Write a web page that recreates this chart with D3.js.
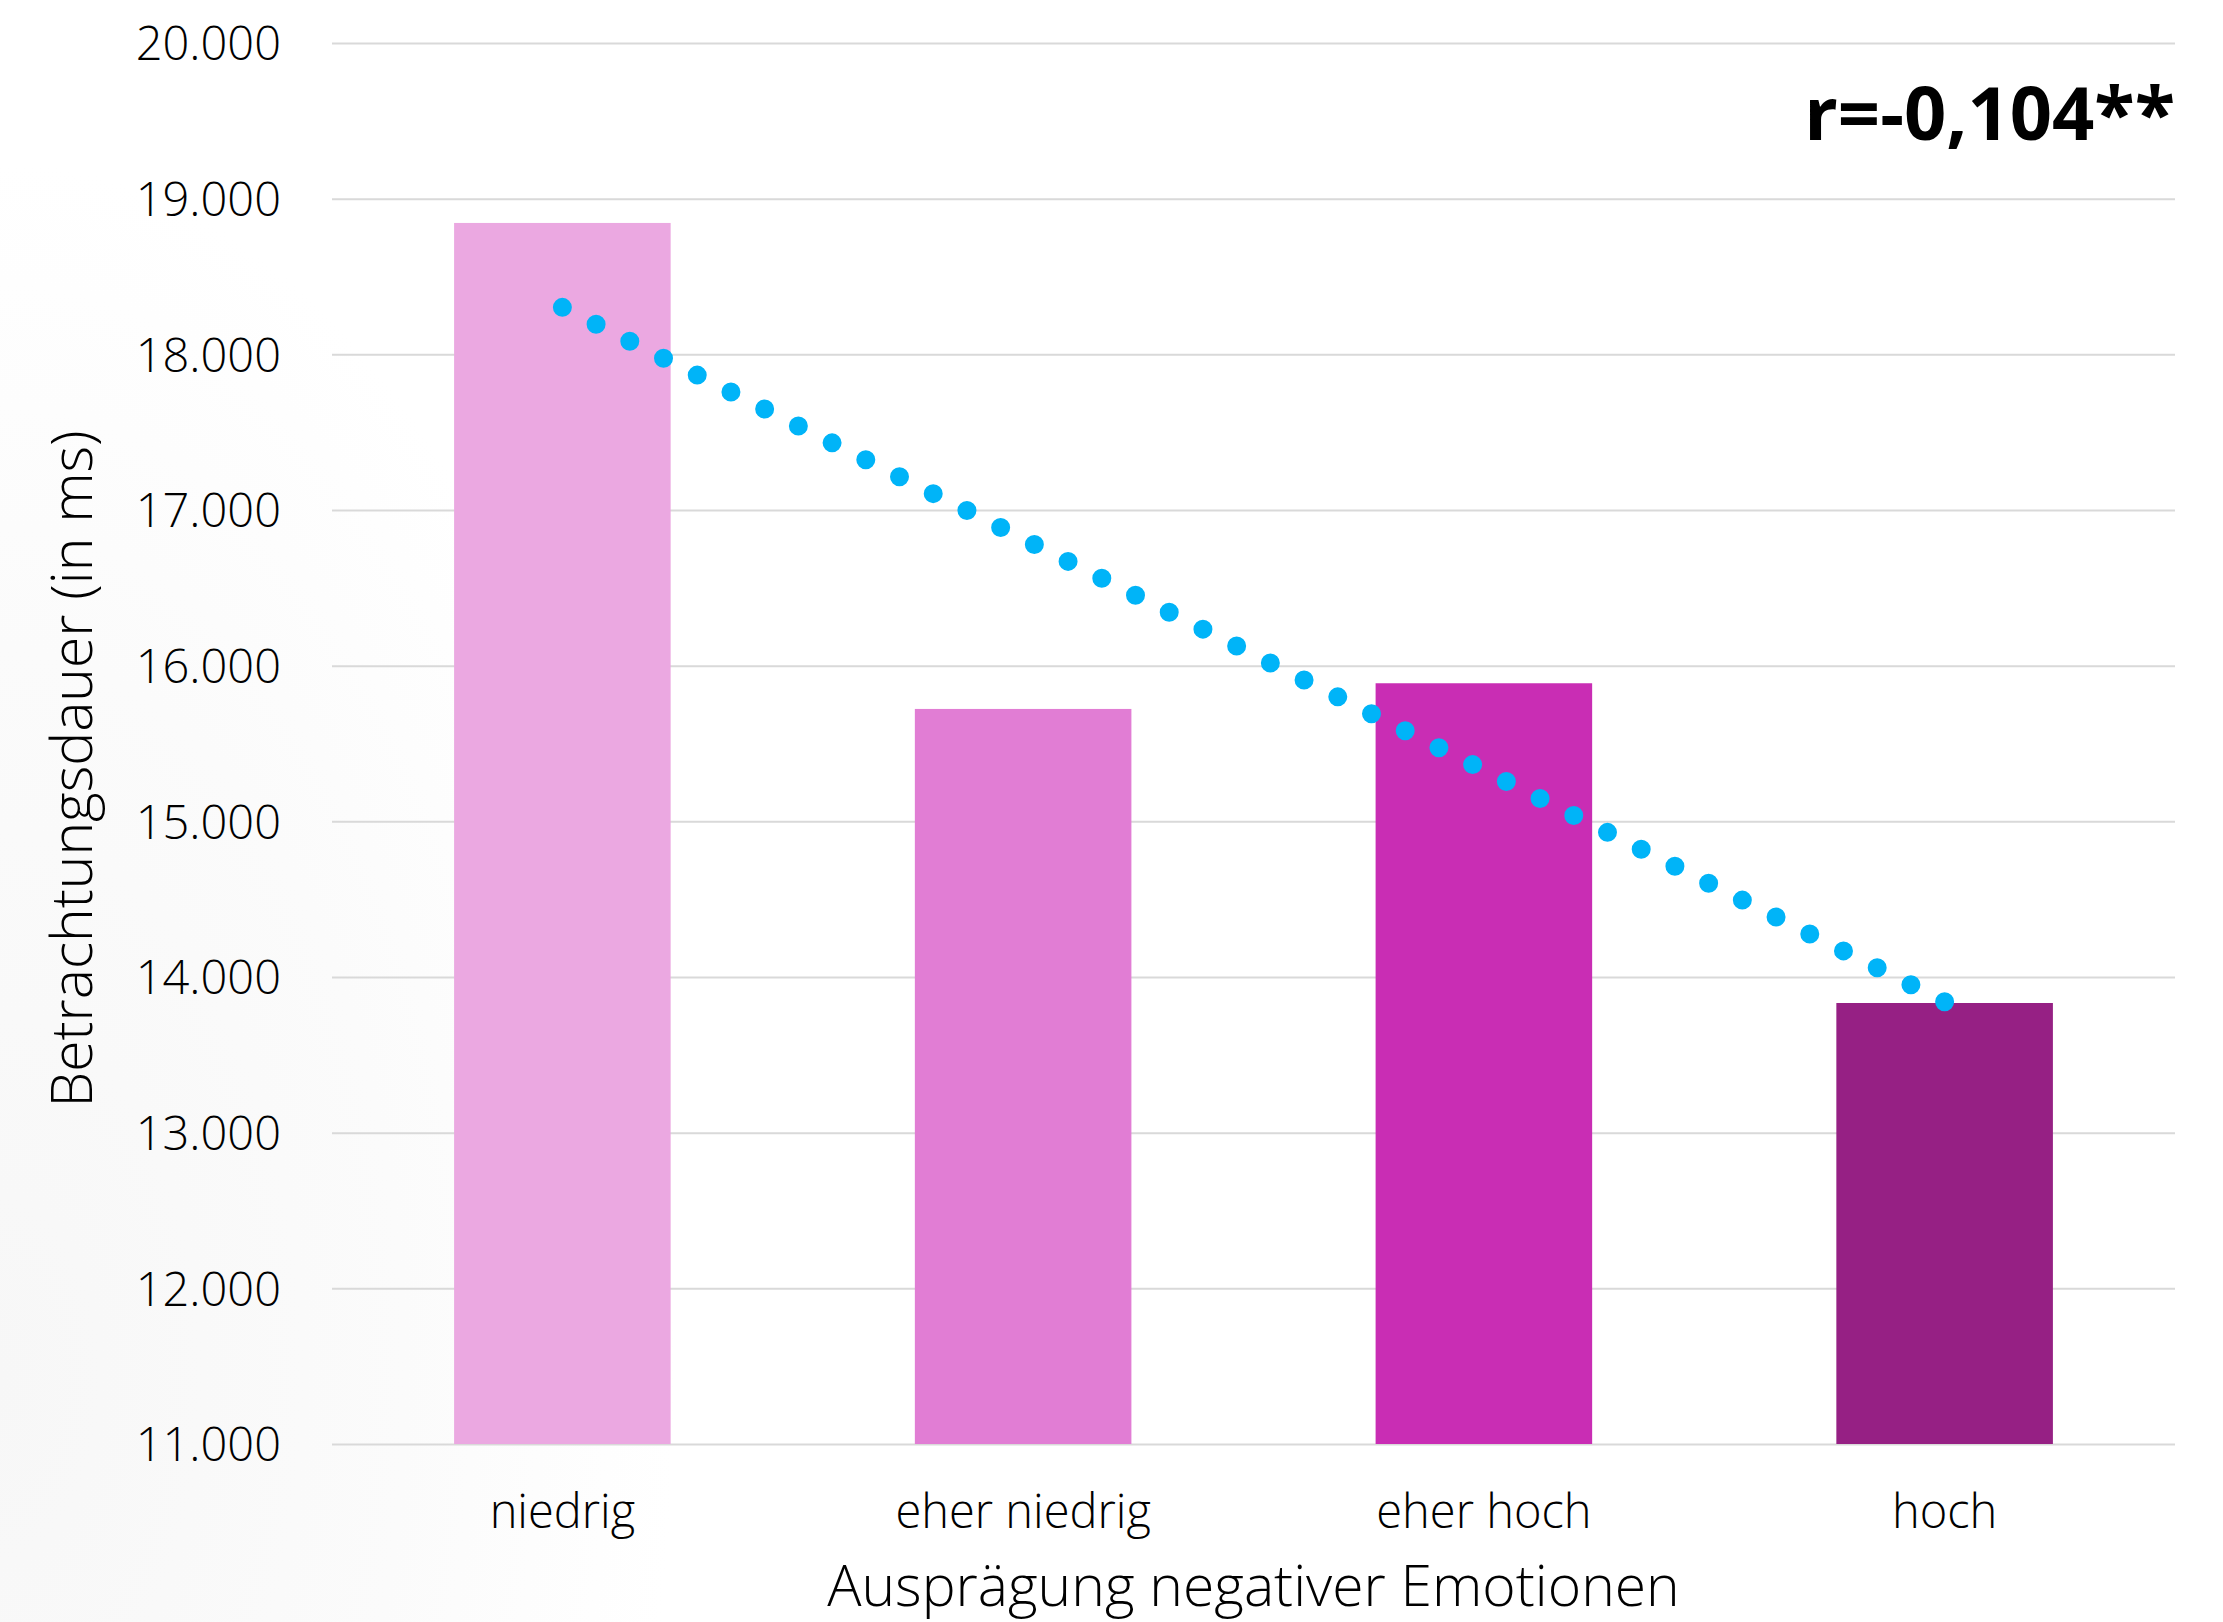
<!DOCTYPE html>
<html>
<head>
<meta charset="utf-8">
<script src="https://cdn.jsdelivr.net/npm/d3@7"></script>
<style>
  html, body { margin: 0; padding: 0; background: #ffffff; }
  svg { display: block; }
  text { font-family: "Open Sans", "Lato", sans-serif; fill: #000; }
</style>
</head>
<body>
<svg id="chart" width="2223" height="1622"></svg>
<script>
// Viewing duration by level of negative emotions
const categories = ["niedrig", "eher niedrig", "eher hoch", "hoch"];
const values = [18844, 15722, 15887, 13833];
const barColors = ["#eba8e1", "#e17dd4", "#c92db4", "#962084"];
const yTicks = [11000, 12000, 13000, 14000, 15000, 16000, 17000, 18000, 19000, 20000];
const yTitle = "Betrachtungsdauer (in ms)";
const xTitle = "Ausprägung negativer Emotionen";
const corrLabel = "r=-0,104**";

const W = 2223, H = 1622;
const margin = { left: 332, right: W - 2175, top: 43, bottom: H - 1444 };

const svg = d3.select("#chart");

// soft grey haze in the lower-left background
const defs = svg.append("defs");
const grad = defs.append("radialGradient").attr("id", "haze")
  .attr("cx", "0").attr("cy", "0.85").attr("r", "0.75");
grad.append("stop").attr("offset", "0").attr("stop-color", "#f7f7f7");
grad.append("stop").attr("offset", "0.6").attr("stop-color", "#fbfbfb");
grad.append("stop").attr("offset", "1").attr("stop-color", "#ffffff");
svg.append("rect").attr("x", 0).attr("y", 0).attr("width", 900).attr("height", H)
  .attr("fill", "url(#haze)");

const x = d3.scaleBand()
  .domain(categories)
  .range([margin.left, W - margin.right])
  .paddingInner(0.53)
  .paddingOuter(0.265);

const y = d3.scaleLinear()
  .domain([11000, 20000])
  .range([H - margin.bottom, margin.top]);

// gridlines and value labels
const yAxis = d3.axisLeft(y)
  .tickValues(yTicks)
  .tickSize(-(W - margin.left - margin.right))
  .tickPadding(51)
  .tickFormat(d => d3.format(",")(d).replace(/,/g, "."));

const gy = svg.append("g")
  .attr("transform", `translate(${margin.left},0)`)
  .call(yAxis);
gy.select(".domain").remove();
gy.selectAll(".tick line").attr("stroke", "#d9d9d9").attr("stroke-width", 2);
gy.selectAll(".tick text")
  .attr("font-size", 47)
  .attr("font-weight", 300)
  .attr("font-family", "'Open Sans', sans-serif")
  .attr("fill", "#000")
  .attr("dy", "0.36em");

// bars
svg.append("g").selectAll("rect")
  .data(categories)
  .join("rect")
  .attr("x", d => x(d))
  .attr("width", x.bandwidth())
  .attr("y", (d, i) => y(values[i]))
  .attr("height", (d, i) => y(11000) - y(values[i]))
  .attr("fill", (d, i) => barColors[i]);

// category labels
const xAxis = d3.axisBottom(x).tickSize(0).tickPadding(0);
const gx = svg.append("g")
  .attr("transform", `translate(0,${H - margin.bottom})`)
  .call(xAxis);
gx.select(".domain").remove();
gx.selectAll(".tick text")
  .attr("font-size", 47)
  .attr("font-weight", 300)
  .attr("font-family", "'Open Sans', sans-serif")
  .attr("fill", "#000")
  .attr("dy", 0)
  .attr("y", 84);

// linear trend through the bar values
const n = values.length;
const xs = d3.range(1, n + 1);
const mx = d3.mean(xs), my = d3.mean(values);
const slope = d3.sum(xs, (v, i) => (v - mx) * (values[i] - my)) / d3.sum(xs, v => (v - mx) ** 2);
const intercept = my - slope * mx;
const trend = xs.map(v => intercept + slope * v);

const cx = c => x(c) + x.bandwidth() / 2;
const trendPath = svg.append("path")
  .datum(categories.map((c, i) => [cx(c), y(trend[i])]))
  .attr("d", d3.line())
  .attr("fill", "none")
  .attr("stroke", "#00b4f8")
  .attr("stroke-width", 19)
  .attr("stroke-linecap", "round");
// round dots, evenly spaced so one sits on each end
const len = trendPath.node().getTotalLength();
const gap = len / Math.round(len / 37.7);
trendPath.attr("stroke-dasharray", `0 ${gap}`);

// axis titles
svg.append("text")
  .attr("x", (margin.left + W - margin.right) / 2)
  .attr("y", 1606)
  .attr("text-anchor", "middle")
  .attr("font-size", 57)
  .attr("font-weight", 300)
  .text(xTitle);

svg.append("text")
  .attr("transform", `translate(92,769) rotate(-90)`)
  .attr("text-anchor", "middle")
  .attr("font-size", 57)
  .attr("font-weight", 300)
  .text(yTitle);

// correlation coefficient
svg.append("text")
  .attr("x", 2175)
  .attr("y", 140)
  .attr("text-anchor", "end")
  .attr("font-size", 74)
  .attr("font-weight", 700)
  .text(corrLabel);
</script>
</body>
</html>
